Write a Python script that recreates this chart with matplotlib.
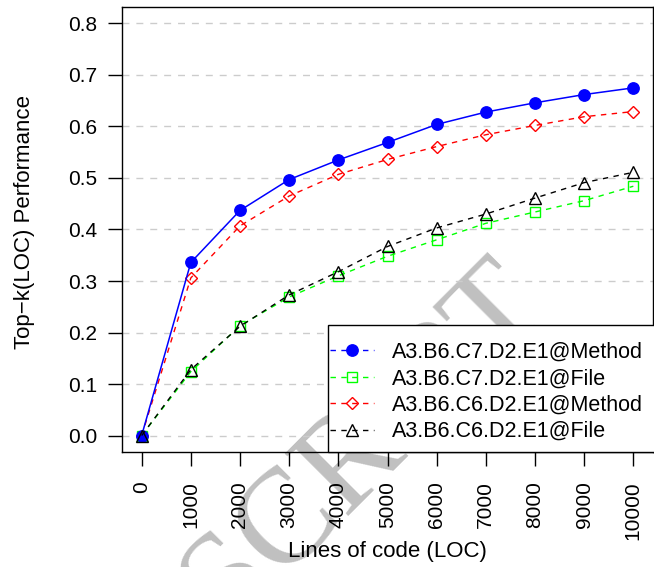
import matplotlib
matplotlib.use("Agg")
import matplotlib.pyplot as plt
from matplotlib.lines import Line2D
from matplotlib.patches import Rectangle

# ---------------- data ----------------
loc = [0, 1000, 2000, 3000, 4000, 5000, 6000, 7000, 8000, 9000, 10000]
c7_method = [0.0, 0.336, 0.437, 0.497, 0.535, 0.569, 0.604, 0.628, 0.646, 0.662, 0.675]
c7_file = [0.0, 0.124, 0.213, 0.269, 0.310, 0.348, 0.380, 0.412, 0.434, 0.456, 0.484]
c6_method = [0.0, 0.306, 0.407, 0.465, 0.507, 0.536, 0.561, 0.584, 0.602, 0.619, 0.629]
c6_file = [0.0, 0.128, 0.212, 0.273, 0.318, 0.367, 0.403, 0.430, 0.461, 0.491, 0.511]
labels = ["A3.B6.C7.D2.E1@Method", "A3.B6.C7.D2.E1@File",
          "A3.B6.C6.D2.E1@Method", "A3.B6.C6.D2.E1@File"]
yticks = [0.0, 0.1, 0.2, 0.3, 0.4, 0.5, 0.6, 0.7, 0.8]
xticks = loc
xlabel = "Lines of code (LOC)"
ylabel = "Top\u2212k(LOC) Performance"
watermark = "ACCEPTED MANUSCRIPT"

plt.rcParams['font.family'] = ['Liberation Sans', 'DejaVu Sans']

W, H = 654, 567
fig = plt.figure(figsize=(W / 100, H / 100), dpi=100)
fig.patch.set_facecolor('white')

# watermark behind everything
fig.text(552 / W, 1 - 312 / H, watermark, ha='right', va='baseline',
         rotation=45, rotation_mode='anchor', fontsize=97,
         family='Liberation Serif', color='#c0c0c0', zorder=-5)

ax = fig.add_axes([122 / W, (H - 452) / H, 531 / W, 445 / H])
ax.patch.set_alpha(0)

ax.set_xlim(-400, 10400)
ax.set_ylim(-0.032, 0.832)

# grid
for y in yticks:
    ax.axhline(y, color='#cccccc', lw=1.0, dashes=(5, 5), zorder=1)

dash = (3.9, 3.9)
ms_kw = dict(markeredgewidth=1.0)

l_green, = ax.plot(loc, c7_file, color='#00ff00', lw=1.0, dashes=dash,
                   marker='s', ms=6.5, mfc='none', mec='#00ff00', zorder=3, **ms_kw)
l_red, = ax.plot(loc, c6_method, color='#ff0000', lw=1.0, dashes=dash,
                 marker='D', ms=6.6, mfc='none', mec='#ff0000', zorder=3, **ms_kw)
l_blue, = ax.plot(loc, c7_method, color='#0000ff', lw=1.1, ls='-',
                  marker='o', ms=8.2, mfc='#0000ff', mec='#0000ff', zorder=4, **ms_kw)
l_black, = ax.plot(loc, c6_file, color='black', lw=1.0, dashes=dash,
                   marker='^', ms=9, mfc='none', mec='black', zorder=5, **ms_kw)

# ticks
ax.set_yticks(yticks)
ax.set_yticklabels([f"{v:.1f}" for v in yticks])
ax.set_xticks(xticks)
ax.set_xticklabels([str(v) for v in xticks], rotation=90)
ax.tick_params(axis='y', length=10, width=1.0, pad=8, labelsize=15)
ax.tick_params(axis='x', length=10, width=1.0, pad=11, labelsize=15)
for s in ax.spines.values():
    s.set_linewidth(1.0)

ax.set_xlabel(xlabel, fontsize=16, va='center')
ax.xaxis.set_label_coords(0.5, (452 - 551) / 445)
ax.set_ylabel(ylabel, fontsize=16, va='center')
ax.yaxis.set_label_coords((25 - 122) / 531, (452 - 222) / 445)

# legend frame
x0 = (328 - 122) / 531
ytop = (452 - 325) / 445
rect = Rectangle((x0, 0), 1.05 - x0, ytop, transform=ax.transAxes,
                 facecolor='white', edgecolor='black', lw=1.0, zorder=6,
                 clip_on=False)
ax.add_patch(rect)

handles = [
    Line2D([], [], color='#0000ff', lw=1.0, dashes=dash, marker='o', ms=8.2,
           mfc='#0000ff', mec='#0000ff', **ms_kw),
    Line2D([], [], color='#00ff00', lw=1.0, dashes=dash, marker='s', ms=6.5,
           mfc='none', mec='#00ff00', **ms_kw),
    Line2D([], [], color='#ff0000', lw=1.0, dashes=dash, marker='D', ms=6.6,
           mfc='none', mec='#ff0000', **ms_kw),
    Line2D([], [], color='black', lw=1.0, dashes=dash, marker='^', ms=9,
           mfc='none', mec='black', **ms_kw),
]
leg = ax.legend(handles, labels, loc='upper left',
                bbox_to_anchor=((330 - 122) / 531, (452 - 342) / 445),
                frameon=False, borderpad=0, borderaxespad=0,
                handlelength=2.05, handletextpad=0.84, labelspacing=0.25,
                fontsize=15.5)
leg.set_zorder(7)

fig.savefig("out.png", dpi=100)
